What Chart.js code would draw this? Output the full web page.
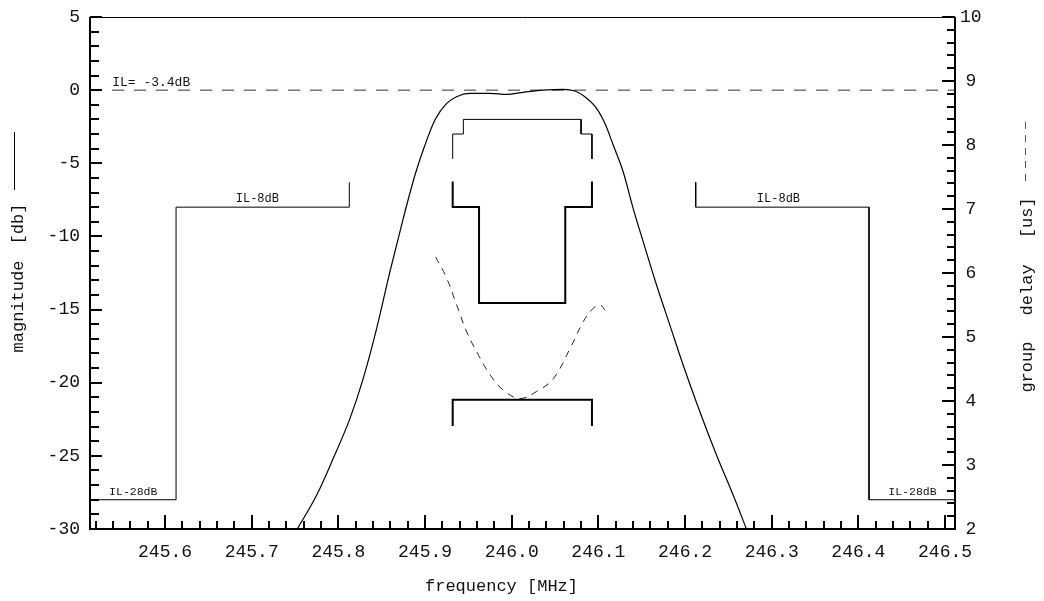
<!DOCTYPE html>
<html><head><meta charset="utf-8">
<script src="https://cdn.jsdelivr.net/npm/chart.js@4.4.1/dist/chart.umd.min.js"></script>
<style>html,body{margin:0;padding:0;background:#fff;overflow:hidden}</style>
</head><body>
<canvas id="c" width="1044" height="601" style="display:block;width:1044px;height:601px"></canvas>
<script>
// ---------- data ----------
const xTickLabels = ['245.6','245.7','245.8','245.9','246.0','246.1','246.2','246.3','246.4','246.5'];
const yTickLabels = ['-30','-25','-20','-15','-10','-5','0','5'];
const y2TickLabels = ['2','3','4','5','6','7','8','9','10'];

const magFreq = [245.7526,245.7750,245.7941,245.8134,245.8287,245.8442,245.8595,245.8749,245.8884,245.8999,245.9114,245.9249,245.9365,245.9518,245.9749,245.9941,246.0133,246.0363,246.0594,246.0729,246.0844,246.0979,246.1075,246.1171,246.1286,246.1401,246.1517,246.1671,246.1825,246.1978,246.2171,246.2363,246.2555,246.2709];
const magDb   = [-30.0,-27.68,-25.17,-22.44,-19.70,-16.28,-12.41,-8.76,-5.80,-3.75,-2.04,-0.90,-0.45,-0.22,-0.22,-0.29,-0.15,0.0,0.05,-0.06,-0.45,-1.24,-2.27,-3.75,-5.58,-8.08,-10.36,-13.32,-16.06,-18.79,-21.98,-24.94,-27.68,-30.0];

const gdFreq = [245.9122,245.9249,245.9365,245.9481,245.9596,245.9750,245.9903,246.0096,246.0288,246.0480,246.0673,246.0826,246.0942,246.1019,246.1077];
const gdUs   = [6.25,5.92,5.50,5.08,4.77,4.41,4.17,4.04,4.15,4.35,4.82,5.24,5.45,5.50,5.42];

const stopLeftFreq  = [245.5134,245.6127,245.6127,245.8126,245.8126];
const stopLeftDb    = [-28,-28,-8,-8,-6.3];
const stopRightFreq = [246.2123,246.2123,246.4123,246.4123,246.5115];
const stopRightDb   = [-6.3,-8,-8,-28,-28];

const passMaskFreq = [245.9319,245.9319,245.9442,245.9442,246.0800,246.0800,246.0926,246.0926];
const passMaskDb   = [-4.7,-3,-3,-2,-2,-3,-3,-4.7];

const gdUpperFreq = [245.9319,245.9319,245.9623,245.9623,246.0618,246.0618,246.0926,246.0926];
const gdUpperUs   = [7.43,7.03,7.03,5.53,5.53,7.03,7.03,7.43];
const gdLowerFreq = [245.9319,245.9319,246.0926,246.0926];
const gdLowerUs   = [3.61,4.02,4.02,3.61];

const ilFreq = [245.5134,246.5115];
const ilDb   = [0,0];

const labelTexts = ['IL= -3.4dB','IL-8dB','IL-8dB','IL-28dB','IL-28dB'];
const labelFreq  = [245.539,245.7065,246.3078,245.5633,246.4624];
const labelDb    = [0.55,-7.44,-7.44,-27.47,-27.47];

// ---------- helpers ----------
const xTickValues  = xTickLabels.map(Number);
const yTickValues  = yTickLabels.map(Number);
const y2TickValues = y2TickLabels.map(Number);
const pts = (xs, ys) => xs.map((v, i) => ({x: v, y: ys[i]}));
const MONO = "'Liberation Mono','DejaVu Sans Mono',monospace";
const noPad = s => { s.paddingTop = 0; s.paddingBottom = 0; s.paddingLeft = 0; s.paddingRight = 0; };

const framePlugin = {
  id: 'frame',
  afterDatasetsDraw(chart) {
    const {ctx, chartArea: a, scales: {x, y, y2}} = chart;
    ctx.save();
    ctx.strokeStyle = '#000';
    // frame
    ctx.lineWidth = 1;
    ctx.beginPath(); ctx.moveTo(a.left, a.top + 0.5); ctx.lineTo(a.right, a.top + 0.5); ctx.stroke();
    ctx.lineWidth = 2;
    ctx.beginPath(); ctx.moveTo(a.left, a.top); ctx.lineTo(a.left, a.bottom + 1); ctx.stroke();
    ctx.beginPath(); ctx.moveTo(a.left - 1, a.bottom); ctx.lineTo(a.right + 1, a.bottom); ctx.stroke();
    ctx.beginPath(); ctx.moveTo(a.right, a.top); ctx.lineTo(a.right, a.bottom + 1); ctx.stroke();
    // left ticks (1 dB minor, 5 dB major)
    for (let i = 0; i <= 35; i++) {
      const p = Math.round(y.getPixelForValue(-30 + i));
      const L = (i % 5 === 0) ? 12 : 9;
      ctx.beginPath(); ctx.moveTo(a.left, p); ctx.lineTo(a.left + L, p); ctx.stroke();
    }
    // right ticks (0.2 minor, 1 major)
    for (let i = 0; i <= 40; i++) {
      const p = Math.round(y2.getPixelForValue(2 + i * 0.2));
      const L = (i % 5 === 0) ? 13 : 8;
      ctx.beginPath(); ctx.moveTo(a.right, p); ctx.lineTo(a.right - L, p); ctx.stroke();
    }
    // bottom ticks (0.02 minor, 0.1 major)
    for (let i = 0; i <= 49; i++) {
      const v = 245.52 + i * 0.02;
      const p = Math.round(x.getPixelForValue(v));
      const L = (i % 5 === 4) ? 14 : 8;
      ctx.beginPath(); ctx.moveTo(p, a.bottom); ctx.lineTo(p, a.bottom - L); ctx.stroke();
    }
    // inner labels
    ctx.fillStyle = '#111';
    ctx.textBaseline = 'middle';
    labelTexts.forEach((t, i) => {
      ctx.font = (i === 0 ? '13px ' : (i >= 3 ? '11.5px ' : '12px ')) + MONO;
      ctx.textAlign = i === 0 ? 'left' : 'center';
      ctx.fillText(t, x.getPixelForValue(labelFreq[i]), y.getPixelForValue(labelDb[i]));
    });
    // axis titles
    ctx.font = '17px ' + MONO;
    ctx.textAlign = 'center';
    ctx.fillText('frequency [MHz]', 501.5, 586);
    ctx.save();
    ctx.translate(18, 278); ctx.rotate(-Math.PI / 2);
    try { ctx.wordSpacing = '6px'; } catch (e) {}
    ctx.fillText('magnitude [db]', 0, 0);
    ctx.restore();
    ctx.save();
    ctx.translate(1027, 295); ctx.rotate(-Math.PI / 2);
    try { ctx.wordSpacing = '16px'; } catch (e) {}
    ctx.fillText('group delay [us]', 0, 0);
    ctx.restore();
    // legend samples
    ctx.lineWidth = 1;
    ctx.strokeStyle = '#000';
    ctx.beginPath(); ctx.moveTo(14.5, 132); ctx.lineTo(14.5, 190); ctx.stroke();
    ctx.strokeStyle = '#555';
    ctx.setLineDash([7, 6]);
    ctx.beginPath(); ctx.moveTo(1025.5, 122); ctx.lineTo(1025.5, 182); ctx.stroke();
    ctx.restore();
  }
};

const thin = {borderColor: '#000', borderWidth: 1, tension: 0, pointRadius: 0, fill: false};

new Chart(document.getElementById('c'), {
  type: 'line',
  data: {
    datasets: [
      {label: 'magnitude', data: pts(magFreq, magDb), yAxisID: 'y', borderColor: '#000', borderWidth: 1.2, pointRadius: 0, cubicInterpolationMode: 'monotone', fill: false},
      {label: 'group delay', data: pts(gdFreq, gdUs), yAxisID: 'y2', borderColor: '#222', borderWidth: 1, borderDash: [7, 6], pointRadius: 0, tension: 0.4, fill: false},
      Object.assign({label: 'stop left', data: pts(stopLeftFreq, stopLeftDb), yAxisID: 'y'}, thin),
      Object.assign({label: 'stop right', data: pts(stopRightFreq, stopRightDb), yAxisID: 'y'}, thin),
      Object.assign({label: 'pass mask', data: pts(passMaskFreq, passMaskDb), yAxisID: 'y'}, thin),
      {label: 'gd upper', data: pts(gdUpperFreq, gdUpperUs), yAxisID: 'y2', borderColor: '#000', borderWidth: 2, tension: 0, pointRadius: 0, fill: false},
      {label: 'gd lower', data: pts(gdLowerFreq, gdLowerUs), yAxisID: 'y2', borderColor: '#000', borderWidth: 2, tension: 0, pointRadius: 0, fill: false},
      {label: 'IL', data: pts(ilFreq, ilDb), yAxisID: 'y', borderColor: '#333', borderWidth: 1, borderDash: [12, 10], tension: 0, pointRadius: 0, fill: false}
    ]
  },
  options: {
    responsive: false,
    animation: false,
    devicePixelRatio: 1,
    layout: {padding: {top: 17, left: 0, right: 0, bottom: 0}},
    plugins: {legend: {display: false}, tooltip: {enabled: false}},
    scales: {
      x: {
        type: 'linear', position: 'bottom', min: 245.5134, max: 246.5115,
        grid: {display: false, drawTicks: false}, border: {display: false},
        ticks: {padding: 12, color: '#111', font: {family: MONO, size: 18}, maxRotation: 0, autoSkip: false,
                callback: (v, i) => xTickLabels[i]},
        afterBuildTicks: s => { s.ticks = xTickValues.map(v => ({value: v})); },
        afterFit: s => { s.height = 72; noPad(s); }
      },
      y: {
        type: 'linear', position: 'left', min: -30, max: 5,
        grid: {display: false, drawTicks: false}, border: {display: false},
        ticks: {padding: 10, color: '#111', font: {family: MONO, size: 18}, autoSkip: false,
                callback: (v, i) => yTickLabels[i]},
        afterBuildTicks: s => { s.ticks = yTickValues.map(v => ({value: v})); },
        afterFit: s => { s.width = 90; noPad(s); }
      },
      y2: {
        type: 'linear', position: 'right', min: 2, max: 10,
        grid: {display: false, drawTicks: false}, border: {display: false},
        ticks: {padding: 5, color: '#111', font: {family: MONO, size: 18}, autoSkip: false, crossAlign: 'center',
                callback: (v, i) => y2TickLabels[i]},
        afterBuildTicks: s => { s.ticks = y2TickValues.map(v => ({value: v})); },
        afterFit: s => { s.width = 89; noPad(s); }
      }
    }
  },
  plugins: [framePlugin]
});
</script>
</body></html>
